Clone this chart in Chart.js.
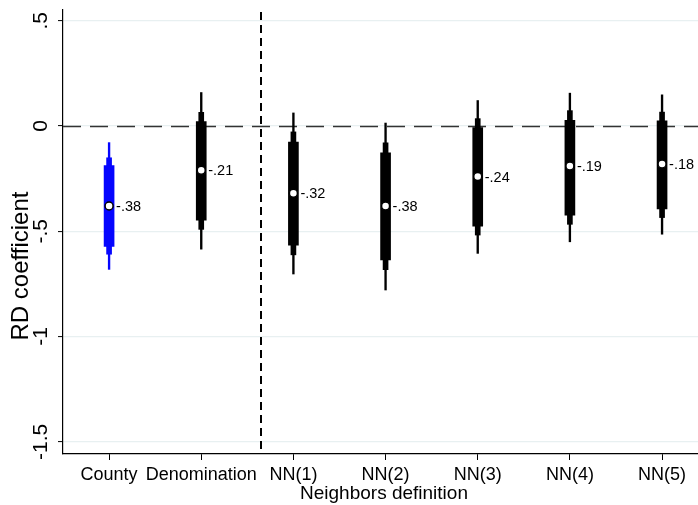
<!DOCTYPE html>
<html>
<head>
<meta charset="utf-8">
<script src="https://cdn.jsdelivr.net/npm/chart.js@4"></script>
<style>
  html, body { margin: 0; padding: 0; background: #ffffff; }
  canvas { display: block; }
</style>
</head>
<body>
<canvas id="rd" width="698" height="505"></canvas>
<script>
// Estimates by neighbour definition
const categories = ['County', 'Denomination', 'NN(1)', 'NN(2)', 'NN(3)', 'NN(4)', 'NN(5)'];
const positions  = [1, 2, 3, 4, 5, 6, 7];
const coef       = [-0.38, -0.21, -0.32, -0.38, -0.24, -0.19, -0.18];
// 90% confidence interval (thick bar)
const ci90Lo = [-0.572, -0.447, -0.566, -0.636, -0.476, -0.424, -0.394];
const ci90Hi = [-0.188,  0.021, -0.076, -0.128, -0.008,  0.027,  0.024];
// 95% confidence interval (medium bar)
const ci95Lo = [-0.609, -0.491, -0.612, -0.683, -0.518, -0.467, -0.435];
const ci95Hi = [-0.151,  0.065, -0.028, -0.080,  0.035,  0.073,  0.066];
// 99% confidence interval (thin whisker)
const ci99Lo = [-0.681, -0.585, -0.703, -0.779, -0.605, -0.550, -0.514];
const ci99Hi = [-0.079,  0.159,  0.062,  0.014,  0.121,  0.156,  0.148];
// Y axis ticks and the divider between the two groups of estimates
const yTicks = [0.5, 0, -0.5, -1, -1.5];
const dividerAt = 2.65;
const yTitle = 'RD coefficient';
const xTitle = 'Neighbors definition';

const FONT = "'Liberation Sans', Arial, Helvetica, sans-serif";
const colorFor = i => (i === 0 ? '#0505ff' : '#000000');

// Stata-like number formatting: -.38, .5, -1.5
function stataNum(v, digits) {
  let s = digits === undefined ? String(Math.abs(v)) : Math.abs(v).toFixed(digits);
  if (s.startsWith('0.')) s = s.slice(1);
  return (v < 0 ? '-' : '') + s;
}

function barSet(lo, hi, thickness, order) {
  return {
    type: 'bar',
    data: positions.map((x, i) => ({ x: x, y: [lo[i], hi[i]] })),
    backgroundColor: positions.map((x, i) => colorFor(i)),
    borderWidth: 0,
    barThickness: thickness,
    grouped: false,
    order: order
  };
}

const refLines = {
  id: 'refLines',
  beforeDatasetsDraw(chart) {
    const { ctx, chartArea: a, scales: { x, y } } = chart;
    ctx.save();
    // zero line
    ctx.strokeStyle = '#333333';
    ctx.lineWidth = 1.6;
    ctx.setLineDash([18, 9]);
    const y0 = Math.round(y.getPixelForValue(0)) + 0.5;
    ctx.beginPath();
    ctx.moveTo(a.left, y0);
    ctx.lineTo(a.right, y0);
    ctx.stroke();
    // group divider
    ctx.strokeStyle = '#000000';
    ctx.lineWidth = 2;
    ctx.setLineDash([8, 5]);
    const xd = Math.round(x.getPixelForValue(dividerAt));
    ctx.beginPath();
    ctx.moveTo(xd, a.top + 2);
    ctx.lineTo(xd, a.bottom);
    ctx.stroke();
    ctx.restore();
  }
};

const labelsPlugin = {
  id: 'valueLabels',
  afterDatasetsDraw(chart) {
    const { ctx, scales: { y } } = chart;
    const meta = chart.getDatasetMeta(0);
    ctx.save();
    ctx.fillStyle = '#000000';
    ctx.font = '14.5px ' + FONT;
    ctx.textAlign = 'left';
    ctx.textBaseline = 'middle';
    meta.data.forEach((pt, i) => {
      ctx.fillText(stataNum(coef[i], 2), pt.x + 7, pt.y + 1);
    });
    // rotated y tick labels
    ctx.font = '21px ' + FONT;
    ctx.textAlign = 'center';
    ctx.textBaseline = 'alphabetic';
    yTicks.forEach(v => {
      const py = y.getPixelForValue(v);
      ctx.save();
      ctx.translate(47, py);
      ctx.rotate(-Math.PI / 2);
      ctx.fillText(stataNum(v), 0, 0);
      ctx.restore();
    });
    // axis titles
    ctx.font = '24px ' + FONT;
    ctx.textBaseline = 'middle';
    ctx.save();
    ctx.translate(21, 266);
    ctx.rotate(-Math.PI / 2);
    ctx.fillText(yTitle, 0, 0);
    ctx.restore();
    ctx.font = '19px ' + FONT;
    ctx.fillText(xTitle, 384, 494);
    ctx.restore();
  }
};

new Chart(document.getElementById('rd'), {
  type: 'bar',
  data: {
    datasets: [
      {
        type: 'scatter',
        data: positions.map((x, i) => ({ x: x, y: coef[i] })),
        pointRadius: 4,
        pointBackgroundColor: '#ffffff',
        pointBorderColor: '#000000',
        pointBorderWidth: 1.5,
        showLine: false,
        order: 0
      },
      barSet(ci90Lo, ci90Hi, 10, 1),
      barSet(ci95Lo, ci95Hi, 5, 2),
      barSet(ci99Lo, ci99Hi, 1.7, 3)
    ]
  },
  options: {
    responsive: false,
    animation: false,
    devicePixelRatio: 1,
    layout: { autoPadding: false, padding: { left: 0, top: 10, right: 0, bottom: 0 } },
    plugins: { legend: { display: false }, tooltip: { enabled: false } },
    scales: {
      x: {
        type: 'linear',
        min: 0.5,
        max: 7.39,
        offset: false,
        afterBuildTicks(scale) { scale.ticks = positions.map(v => ({ value: v })); },
        afterFit(scale) {
          scale.height = 51;
          scale.paddingLeft = 0;
          scale.paddingRight = 0;
        },
        ticks: {
          callback: v => categories[positions.indexOf(v)],
          color: '#000000',
          font: { family: FONT, size: 18 },
          padding: 4,
          maxRotation: 0,
          autoSkip: false
        },
        grid: {
          offset: false,
          drawOnChartArea: false,
          drawTicks: true,
          tickLength: 6,
          tickColor: '#000000',
          tickWidth: 1
        },
        border: { display: true, color: '#000000', width: 1.2 }
      },
      y: {
        min: -1.558,
        max: 0.551,
        afterBuildTicks(scale) { scale.ticks = yTicks.map(v => ({ value: v })); },
        afterFit(scale) {
          scale.width = 63;
          scale.paddingTop = 0;
          scale.paddingBottom = 0;
        },
        ticks: { display: false },
        grid: {
          color: '#e8f0f1',
          lineWidth: 1.2,
          drawTicks: true,
          tickLength: 5,
          tickColor: '#000000',
          tickWidth: 1
        },
        border: { display: true, color: '#000000', width: 1.2 }
      }
    }
  },
  plugins: [refLines, labelsPlugin]
});
</script>
</body>
</html>
